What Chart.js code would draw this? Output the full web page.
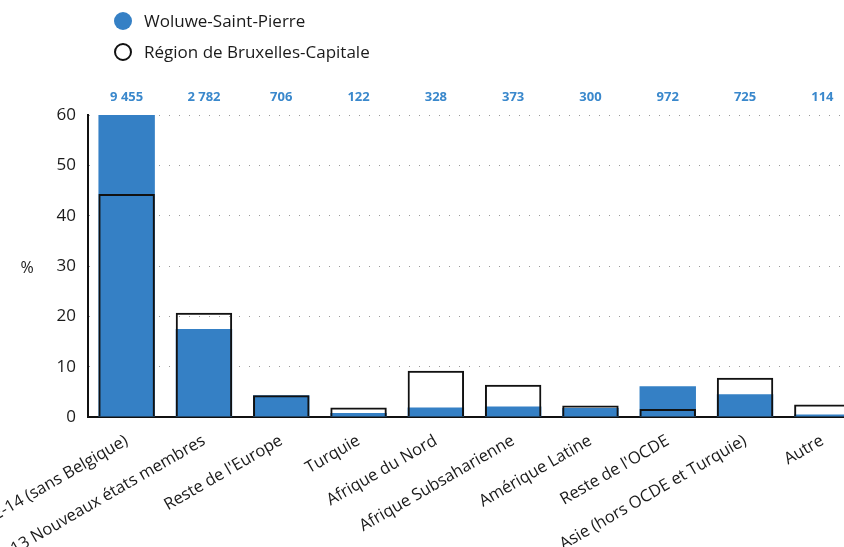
<!DOCTYPE html>
<html>
<head>
<meta charset="utf-8">
<script src="https://cdn.jsdelivr.net/npm/chart.js@4"></script>
<style>
  body { margin: 0; width: 844px; height: 547px; overflow: hidden; background: #fff; position: relative; font-family: "Open Sans", sans-serif; }
  #wrap { position: absolute; left: 0; top: 0; width: 861px; height: 547px; }
  .leg { position: absolute; left: 114px; font-size: 17px; color: #1a1a1a; display: flex; align-items: center; }
  .dot { width: 18px; height: 18px; border-radius: 50%; margin-right: 12px; box-sizing: border-box; }
</style>
</head>
<body>
<div id="wrap"><canvas id="chart"></canvas></div>
<div class="leg" style="top:9px"><span class="dot" style="background:#3580c5"></span>Woluwe-Saint-Pierre</div>
<div class="leg" style="top:40px"><span class="dot" style="border:2px solid #111"></span>Région de Bruxelles-Capitale</div>
<script>
const categories = ['UE-14 (sans Belgique)', 'UE-13 Nouveaux états membres', "Reste de l'Europe", 'Turquie', 'Afrique du Nord', 'Afrique Subsaharienne', 'Amérique Latine', "Reste de l'OCDE", 'Asie (hors OCDE et Turquie)', 'Autre'];
const woluwe = [60, 17.5, 4.3, 0.8, 1.9, 2.1, 1.8, 6.1, 4.5, 0.5];
const region = [44.3, 20.7, 4.3, 1.9, 9.2, 6.4, 2.3, 1.6, 7.8, 2.5];
const counts = ['9 455', '2 782', '706', '122', '328', '373', '300', '972', '725', '114'];
const yTicks = [0, 10, 20, 30, 40, 50, 60];

// labels du haut + titre "%"
const extras = {
  id: 'extras',
  afterDraw(chart) {
    const ctx = chart.ctx;
    const x = chart.scales.x;
    ctx.save();
    ctx.fillStyle = '#3a88cc';
    ctx.font = 'bold 13px "Open Sans"';
    ctx.textAlign = 'center';
    ctx.textBaseline = 'middle';
    counts.forEach((c, i) => ctx.fillText(c, x.getPixelForValue(i), 97));
    ctx.fillStyle = '#1a1a1a';
    ctx.font = '16px "Open Sans"';
    ctx.fillText('%', 27, 268);
    ctx.restore();
  }
};

new Chart(document.getElementById('chart'), {
  type: 'bar',
  data: {
    labels: categories,
    datasets: [
      { label: 'Woluwe-Saint-Pierre', data: woluwe, backgroundColor: '#3580c5', borderWidth: 0, order: 1 },
      { label: 'Région de Bruxelles-Capitale', data: region, backgroundColor: 'rgba(0,0,0,0)', borderColor: '#111', borderWidth: 2, order: 0 }
    ]
  },
  options: {
    responsive: true,
    maintainAspectRatio: false,
    animation: false,
    layout: { padding: { top: 115, left: 0, right: 0, bottom: 0 } },
    datasets: { bar: { categoryPercentage: 1, barPercentage: 0.73 } },
    plugins: { legend: { display: false }, tooltip: { enabled: false } },
    scales: {
      x: {
        stacked: true,
        grid: { display: false },
        border: { color: '#111', width: 2 },
        ticks: { autoSkip: false, maxRotation: 30, minRotation: 30, color: '#1a1a1a', font: { family: 'Open Sans', size: 16.5 }, padding: 6 },
        afterFit(s) { s.height = 130; s.paddingLeft = 0; s.paddingRight = 0; }
      },
      y: {
        min: 0, max: 60,
        afterBuildTicks(s) { s.ticks = yTicks.map(v => ({ value: v })); },
        grid: { color: '#999', lineWidth: 1, drawTicks: false },
        border: { color: '#111', width: 2, dash: [1, 9] },
        ticks: { color: '#1a1a1a', padding: 12, font: { family: 'Open Sans', size: 17 } },
        afterFit(s) { s.width = 88; }
      }
    }
  },
  plugins: [extras]
});
</script>
</body>
</html>
